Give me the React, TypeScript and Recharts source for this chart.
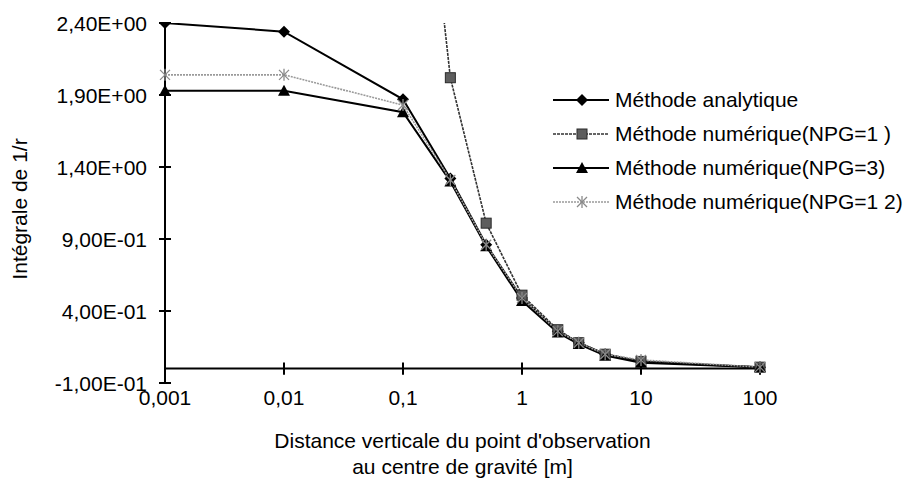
import React from 'react';
import { LineChart, Line, XAxis, YAxis, ReferenceLine, Label } from 'recharts';

// distance verticale (m) et intégrale de 1/r
const distances = [0.001, 0.01, 0.1, 0.25, 0.5, 1, 2, 3, 5, 10, 100];
const analytique = [2.4, 2.34, 1.87, 1.32, 0.86, 0.49, 0.26, 0.18, 0.1, 0.05, 0.01];
const npg1 = [500, 50, 5.0, 2.02, 1.01, 0.51, 0.27, 0.18, 0.1, 0.05, 0.01];
const npg3 = [1.93, 1.93, 1.78, 1.3, 0.85, 0.47, 0.25, 0.17, 0.09, 0.04, 0.01];
const npg12 = [2.04, 2.04, 1.83, 1.31, 0.86, 0.49, 0.26, 0.18, 0.1, 0.06, 0.01];

const xTicks = [0.001, 0.01, 0.1, 1, 10, 100];
const yTicks = [-0.1, 0.4, 0.9, 1.4, 1.9, 2.4];
const seriesNames = [
  'Méthode analytique',
  'Méthode numérique(NPG=1 )',
  'Méthode numérique(NPG=3)',
  'Méthode numérique(NPG=1 2)',
];

const data = distances.map((d, i) => ({
  d,
  analytique: analytique[i],
  npg1: npg1[i],
  npg3: npg3[i],
  npg12: npg12[i],
}));

const FONT = '"Liberation Sans", Arial, sans-serif';

const sci = (v: number) => {
  const [m, e] = v.toExponential(2).split('e');
  const n = parseInt(e, 10);
  return m.replace('.', ',') + 'E' + (n < 0 ? '-' : '+') + String(Math.abs(n)).padStart(2, '0');
};

const Diamond = ({ cx, cy }: { cx: number; cy: number }) => (
  <polygon points={`${cx},${cy - 6} ${cx + 6},${cy} ${cx},${cy + 6} ${cx - 6},${cy}`} fill="#000" />
);
const Square = ({ cx, cy }: { cx: number; cy: number }) => (
  <rect x={cx - 5} y={cy - 5} width={10} height={10} fill="#5e5e5e" stroke="#2a2a2a" strokeWidth={1} />
);
const Triangle = ({ cx, cy }: { cx: number; cy: number }) => (
  <polygon points={`${cx},${cy - 6} ${cx + 6},${cy + 5} ${cx - 6},${cy + 5}`} fill="#000" />
);
const Star = ({ cx, cy }: { cx: number; cy: number }) => (
  <g stroke="#8a8a8a" strokeWidth={1.3}>
    <line x1={cx - 5} y1={cy - 5} x2={cx + 5} y2={cy + 5} />
    <line x1={cx - 5} y1={cy + 5} x2={cx + 5} y2={cy - 5} />
    <line x1={cx} y1={cy - 6} x2={cx} y2={cy + 6} />
  </g>
);

const markers = [Diamond, Square, Triangle, Star];
const strokes = [
  { stroke: '#000', width: 2, dash: undefined },
  { stroke: '#333', width: 1.6, dash: '3 1' },
  { stroke: '#000', width: 2, dash: undefined },
  { stroke: '#9a9a9a', width: 1.6, dash: '2 1' },
];
const keys = ['analytique', 'npg1', 'npg3', 'npg12'];

// libellé et petit trait qui traverse l'axe
const YTick = (p: any) => (
  <g>
    <path d={`M${p.x + 12},${p.y}H${p.x + 24}`} stroke="#000" strokeWidth={2} fill="none" />
    <text x={p.x} y={p.y} dy="0.36em" textAnchor="end" fontSize={21} fontFamily={FONT} fill="#000">
      {sci(p.payload.value)}
    </text>
  </g>
);

const XTick = (p: any) => (
  <text x={p.x} y={p.y} dy="0.71em" textAnchor="middle" fontSize={21} fontFamily={FONT} fill="#000">
    {String(p.payload.value).replace('.', ',')}
  </text>
);

const Legende = () => (
  <div style={{ position: 'absolute', left: 553, top: 83, fontFamily: FONT, fontSize: 21, color: '#000' }}>
    {seriesNames.map((name, i) => {
      const M = markers[i];
      const s = strokes[i];
      return (
        <div key={name} style={{ display: 'flex', alignItems: 'center', height: 34, whiteSpace: 'nowrap' }}>
          <svg width={56} height={20} style={{ marginRight: 6 }}>
            <line x1={0} x2={56} y1={10} y2={10} stroke={s.stroke} strokeWidth={s.width} strokeDasharray={s.dash} />
            <M cx={29} cy={10} />
          </svg>
          <span>{name}</span>
        </div>
      );
    })}
  </div>
);

export default function App() {
  return (
    <div style={{ position: 'absolute', left: 0, top: 0, width: 904, height: 483, background: '#fff' }}>
      <LineChart
        width={904}
        height={483}
        data={data}
        margin={{ top: 23, right: 144, bottom: 70, left: 0 }}
        style={{ fontFamily: FONT }}
      >
        <XAxis
          dataKey="d"
          type="number"
          scale="log"
          domain={[0.001, 100]}
          ticks={xTicks}
          axisLine={false}
          tickLine={false}
          tickSize={0}
          tickMargin={7}
          tick={<XTick />}
          height={30}
          interval={0}
        >
          <Label
            content={(p: any) => {
              const vb = p.viewBox;
              const cx = vb.x + vb.width / 2;
              return (
                <g>
                  <text x={cx} y={vb.y + 65} textAnchor="middle" fontSize={21} fontFamily={FONT} fill="#000">
                    Distance verticale du point d'observation
                  </text>
                  <text x={cx} y={vb.y + 91} textAnchor="middle" fontSize={21} fontFamily={FONT} fill="#000">
                    au centre de gravité [m]
                  </text>
                </g>
              );
            }}
          />
        </XAxis>
        <YAxis
          type="number"
          domain={[-0.1, 2.4]}
          ticks={yTicks}
          allowDataOverflow
          width={165}
          axisLine={{ stroke: '#000', strokeWidth: 2 }}
          tickLine={false}
          tickSize={0}
          tickMargin={18}
          tick={<YTick />}
          interval={0}
        >
          <Label
            content={(p: any) => {
              const vb = p.viewBox;
              const cy = vb.y + vb.height / 2 + 6;
              return (
                <text
                  x={27}
                  y={cy}
                  transform={`rotate(-90, 27, ${cy})`}
                  textAnchor="middle"
                  fontSize={21}
                  fontFamily={FONT}
                  fill="#000"
                >
                  Intégrale de 1/r
                </text>
              );
            }}
          />
        </YAxis>
        <ReferenceLine y={0} stroke="#000" strokeWidth={2} />
        {xTicks.slice(1).map((t) => (
          <ReferenceLine
            key={`xt-${t}`}
            segment={[
              { x: t, y: 0.042 },
              { x: t, y: -0.042 },
            ]}
            stroke="#000"
            strokeWidth={2}
          />
        ))}
        {keys.map((k, i) => {
          const M = markers[i];
          const s = strokes[i];
          return (
            <Line
              key={k}
              dataKey={k}
              name={seriesNames[i]}
              type="linear"
              stroke={s.stroke}
              strokeWidth={s.width}
              strokeDasharray={s.dash}
              isAnimationActive={false}
              dot={(p: any) => <M key={`${k}-${p.index}`} cx={p.cx} cy={p.cy} />}
              activeDot={false}
            />
          );
        })}
      </LineChart>
      <Legende />
    </div>
  );
}
